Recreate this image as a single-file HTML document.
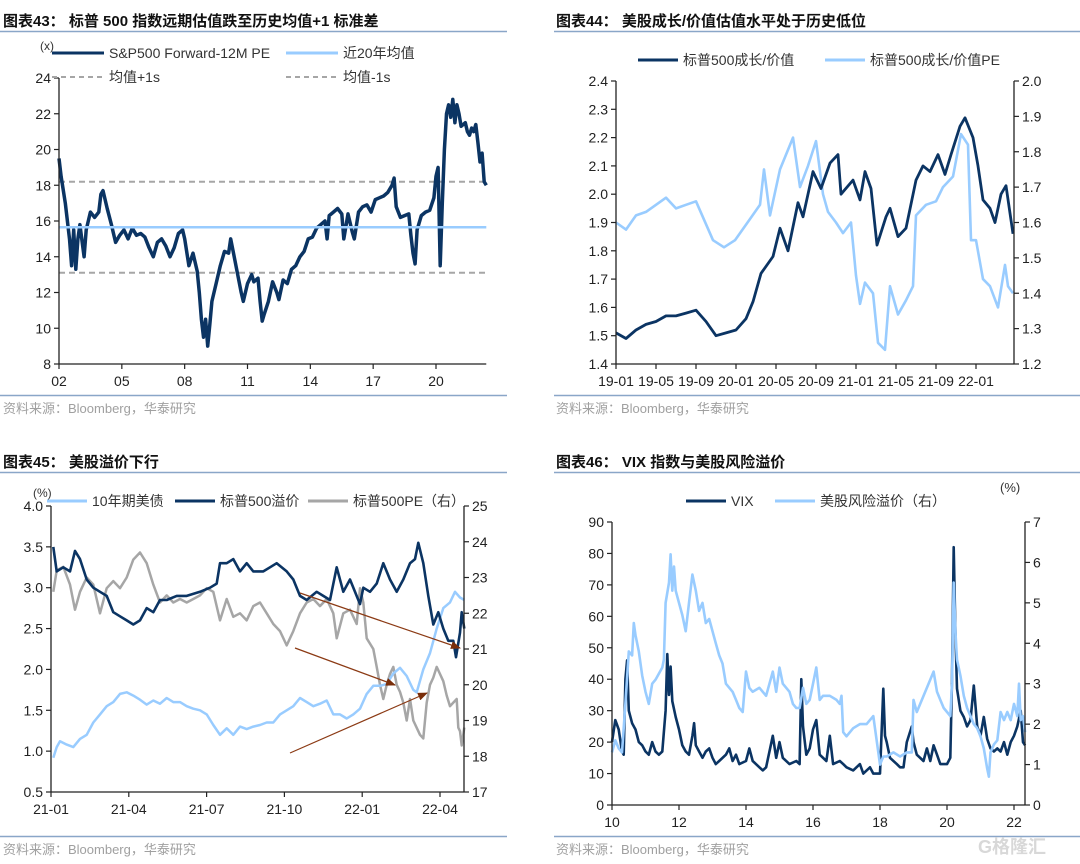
<!DOCTYPE html>
<html><head><meta charset="utf-8">
<style>
html,body{margin:0;padding:0;background:#fff;}
svg{display:block;font-family:"Liberation Sans","Noto Sans CJK SC",sans-serif;}
</style></head>
<body>
<svg id="root" width="1080" height="864" viewBox="0 0 1080 864" xmlns="http://www.w3.org/2000/svg">
<g>
<text x="3" y="26" font-size="15" font-weight="bold" fill="#111">图表43：  标普 500 指数远期估值跌至历史均值+1 标准差</text>
<line x1="0" y1="31.5" x2="507" y2="31.5" stroke="#8aa6c8" stroke-width="1.5"/>
<line x1="0" y1="395.5" x2="507" y2="395.5" stroke="#8aa6c8" stroke-width="1.5"/>
<text x="3" y="413" font-size="13" fill="#a0a0a0">资料来源：Bloomberg，华泰研究</text>
</g>
<g>
<text x="556" y="26" font-size="15" font-weight="bold" fill="#111">图表44：  美股成长/价值估值水平处于历史低位</text>
<line x1="554" y1="31.5" x2="1080" y2="31.5" stroke="#8aa6c8" stroke-width="1.5"/>
<line x1="554" y1="395.5" x2="1080" y2="395.5" stroke="#8aa6c8" stroke-width="1.5"/>
<text x="556" y="413" font-size="13" fill="#a0a0a0">资料来源：Bloomberg，华泰研究</text>
</g>
<g>
<text x="3" y="467" font-size="15" font-weight="bold" fill="#111">图表45：  美股溢价下行</text>
<line x1="0" y1="472.5" x2="507" y2="472.5" stroke="#8aa6c8" stroke-width="1.5"/>
<line x1="0" y1="836.5" x2="507" y2="836.5" stroke="#8aa6c8" stroke-width="1.5"/>
<text x="3" y="854" font-size="13" fill="#a0a0a0">资料来源：Bloomberg，华泰研究</text>
</g>
<g>
<text x="556" y="467" font-size="15" font-weight="bold" fill="#111">图表46：  VIX 指数与美股风险溢价</text>
<line x1="554" y1="472.5" x2="1080" y2="472.5" stroke="#8aa6c8" stroke-width="1.5"/>
<line x1="554" y1="836.5" x2="1080" y2="836.5" stroke="#8aa6c8" stroke-width="1.5"/>
<text x="556" y="854" font-size="13" fill="#a0a0a0">资料来源：Bloomberg，华泰研究</text>
<text x="978" y="853" font-size="18" font-weight="bold" fill="#d8d8d8">G格隆汇</text>
</g>
</svg>
<script>
// ---------- Chart 43 data ----------
const c43Years = [2002.0,2002.1,2002.3,2002.5,2002.6,2002.7,2002.8,2002.9,2003.0,2003.2,2003.3,2003.5,2003.7,2003.9,2004.0,2004.1,2004.3,2004.5,2004.7,2004.9,2005.1,2005.3,2005.5,2005.7,2005.9,2006.1,2006.3,2006.5,2006.7,2006.9,2007.1,2007.3,2007.5,2007.7,2007.9,2008.0,2008.2,2008.4,2008.6,2008.7,2008.8,2008.9,2009.0,2009.1,2009.2,2009.3,2009.5,2009.7,2009.9,2010.1,2010.2,2010.4,2010.5,2010.7,2010.8,2011.0,2011.2,2011.3,2011.5,2011.6,2011.7,2011.8,2012.0,2012.2,2012.4,2012.5,2012.7,2012.9,2013.1,2013.3,2013.5,2013.7,2013.9,2014.1,2014.3,2014.5,2014.7,2014.8,2014.9,2015.1,2015.3,2015.5,2015.6,2015.8,2016.0,2016.1,2016.3,2016.5,2016.7,2016.9,2017.1,2017.3,2017.5,2017.7,2017.9,2018.0,2018.1,2018.3,2018.5,2018.7,2018.8,2018.9,2019.0,2019.1,2019.3,2019.5,2019.7,2019.9,2020.0,2020.1,2020.2,2020.3,2020.4,2020.5,2020.6,2020.7,2020.8,2020.9,2021.0,2021.1,2021.2,2021.4,2021.5,2021.6,2021.7,2021.8,2021.9,2022.0,2022.1,2022.2,2022.3,2022.4];
const c43PE = [19.5,18.5,17,15,13.5,15.5,13.3,15,15.8,14.0,15.5,16.5,16.2,16.5,17.5,17.7,16.7,15.8,14.8,15.2,15.5,15.0,15.6,15.2,15.3,15.1,14.5,14.0,14.8,15.0,14.6,14.0,14.5,15.3,15.5,15.0,13.5,14.2,13.2,12.0,10.5,9.5,10.5,9.0,10.2,11.5,12.5,13.5,14.3,14.2,15.0,13.8,13.2,12.0,11.5,12.5,13.0,12.6,12.8,11.5,10.4,10.8,11.5,12.6,12.0,11.6,12.7,12.5,13.3,13.5,14.0,14.3,15.0,15.1,15.6,15.8,16.0,15.0,16.3,16.5,16.7,16.4,15.0,16.4,15.4,15.0,16.5,16.8,16.9,16.5,17.2,17.3,17.4,17.6,18.0,18.4,16.8,16.2,16.3,16.4,15.2,14.2,13.6,15.5,16.3,16.5,16.6,17.3,18.5,19.0,13.5,17.0,20.0,22.0,22.5,21.8,22.8,21.5,22.5,22.0,21.3,21.5,21.0,20.8,21.2,21.0,21.4,20.4,19.3,19.8,18.2,18.0];
const c43Mean = [15.65];
const c43Plus = [18.2];
const c43Minus = [13.1];
const c43YTicks = [8,10,12,14,16,18,20,22,24];
const c43XTicks = [2002,2005,2008,2011,2014,2017,2020];
const c43XLabels = ["02","05","08","11","14","17","20"];

// ---------- Chart 44 data (months since 2019-01) ----------
const c44GMonths = [0,1,2,3,4,5,6,7,8,9,10,11,12,13,13.7,14.5,15.7,16.4,17.2,18.2,18.7,19.7,20.5,21.4,22.2,22.5,23.7,24.4,24.9,25.5,26.1,27,27.4,28.2,29,30,30.7,31.4,32.2,32.9,33.5,34.4,34.9,35.7,36.2,36.7,37.4,37.9,38.5,39,39.7];
const c44GValues = [1.51,1.49,1.52,1.54,1.55,1.57,1.57,1.58,1.59,1.55,1.50,1.51,1.52,1.56,1.62,1.72,1.78,1.88,1.80,1.97,1.92,2.08,2.02,2.11,2.14,2.00,2.05,1.98,2.08,2.02,1.82,1.92,1.95,1.85,1.88,2.05,2.10,2.08,2.14,2.07,2.14,2.24,2.27,2.20,2.10,1.98,1.95,1.90,2.00,2.03,1.86];
const c44PMonths = [0,1,2,3,4,5,6,7,8,9.7,10.8,11.9,13.4,14.4,14.8,15.4,16.4,17.7,18.4,19.2,20,20.7,21.2,22,22.7,23.5,24,24.4,24.9,25.7,26.2,26.9,27.4,28.2,29,29.7,30,31,32,32.7,33.7,34.5,35.2,35.5,36,36.7,37.4,38.2,38.9,39.2,39.7];
const c44PValues = [1.60,1.58,1.62,1.63,1.65,1.67,1.64,1.65,1.66,1.55,1.53,1.55,1.61,1.65,1.75,1.62,1.75,1.84,1.70,1.76,1.83,1.68,1.63,1.60,1.57,1.60,1.45,1.37,1.43,1.40,1.26,1.24,1.42,1.34,1.38,1.42,1.62,1.65,1.66,1.70,1.73,1.85,1.82,1.55,1.55,1.44,1.42,1.36,1.48,1.42,1.40];
const c44LTicks = [1.4,1.5,1.6,1.7,1.8,1.9,2.0,2.1,2.2,2.3,2.4];
const c44RTicks = [1.2,1.3,1.4,1.5,1.6,1.7,1.8,1.9,2.0];
const c44XTicks = [0,4,8,12,16,20,24,28,32,36];
const c44XLabels = ["19-01","19-05","19-09","20-01","20-05","20-09","21-01","21-05","21-09","22-01"];

// ---------- Chart 45 data (months since 2021-01) ----------
const c45ZoomX = [160,170,190,210,225,240,260,280,300,320,340,360,380,400,420,440,460,480,500,530,560,600,630,650,660,680,700,720,740,760,790,810,830,860,880,900,920,950,970,990,1010,1030,1050,1080,1090,1110,1130,1150,1170,1190,1210,1230,1245,1255,1270,1285,1300,1315,1330,1345,1360,1368,1380,1385,1393];
const c45Months = c45ZoomX.map(v => (v - 153) / 77.8);
const c45Premium = [3.5,3.2,3.25,3.2,3.45,3.35,3.1,3.0,2.95,2.9,2.7,2.65,2.6,2.55,2.6,2.75,2.7,2.85,2.85,2.9,2.9,2.95,3.0,3.05,3.3,3.3,3.35,3.2,3.3,3.2,3.2,3.25,3.3,3.2,3.1,2.9,2.85,2.95,2.9,2.85,3.25,2.95,3.1,2.8,3.0,2.95,3.05,3.3,3.1,2.95,3.1,3.3,3.35,3.55,3.3,2.9,2.55,2.7,2.5,2.35,2.35,2.15,2.45,2.7,2.5];
const c45BondX = [160,170,180,200,220,240,260,280,300,320,340,360,380,400,420,440,460,480,500,520,540,560,580,600,620,640,660,680,700,720,740,760,780,800,820,840,860,880,900,920,940,960,980,1000,1020,1040,1060,1080,1100,1120,1140,1160,1180,1200,1220,1240,1250,1270,1290,1310,1330,1350,1365,1380,1393];
const c45BondMonths = c45BondX.map(v => (v - 153) / 77.8);
const c45Bond = [0.92,1.05,1.12,1.08,1.05,1.15,1.2,1.35,1.45,1.55,1.6,1.7,1.72,1.68,1.63,1.57,1.62,1.58,1.65,1.6,1.6,1.55,1.52,1.5,1.45,1.32,1.2,1.28,1.2,1.3,1.27,1.3,1.32,1.35,1.35,1.45,1.5,1.55,1.65,1.6,1.55,1.58,1.62,1.45,1.45,1.4,1.45,1.52,1.7,1.8,1.8,1.82,1.95,2.02,1.92,1.75,1.72,2.0,2.2,2.5,2.75,2.82,2.95,2.88,2.85];
const c45PEX = [160,170,190,210,225,240,260,280,300,320,340,360,380,400,420,440,460,480,500,520,540,560,580,600,620,640,660,680,700,720,740,760,780,800,820,840,860,880,900,920,940,960,980,1000,1010,1030,1050,1070,1080,1090,1100,1120,1130,1140,1150,1160,1170,1180,1190,1200,1210,1220,1230,1240,1260,1270,1280,1290,1300,1310,1320,1330,1340,1350,1360,1370,1375,1380,1385,1393];
const c45PEMonths = c45PEX.map(v => (v - 153) / 77.8);
const c45PE = [22.6,23.2,23.3,22.8,22.1,22.6,23.0,22.8,22.0,22.7,22.9,22.7,23.0,23.5,23.7,23.4,22.8,22.3,22.5,22.3,22.4,22.3,22.4,22.5,22.7,22.6,21.8,22.4,21.9,22.0,21.8,22.2,22.3,22.0,21.7,21.5,21.1,21.5,22.0,22.3,22.4,22.2,22.4,22.0,21.3,22.0,22.1,21.7,22.7,22.3,21.3,21.0,20.5,20.0,19.6,20.0,20.3,20.5,20.0,19.8,19.5,19.0,19.6,19.0,18.6,18.5,19.5,20.0,20.2,20.5,20.3,20.1,19.7,19.4,19.5,19.6,18.8,18.7,18.3,18.8];
const c45LTicks = [0.5,1.0,1.5,2.0,2.5,3.0,3.5,4.0];
const c45RTicks = [17,18,19,20,21,22,23,24,25];
const c45XTicks = [0,3,6,9,12,15];
const c45XLabels = ["21-01","21-04","21-07","21-10","22-01","22-04"];

// ---------- Chart 46 data ----------
const c46VixYears = [2010.0,2010.1,2010.2,2010.3,2010.35,2010.4,2010.45,2010.5,2010.6,2010.7,2010.8,2010.9,2011.0,2011.1,2011.2,2011.3,2011.4,2011.5,2011.6,2011.65,2011.7,2011.75,2011.8,2011.9,2012.0,2012.1,2012.2,2012.3,2012.4,2012.45,2012.5,2012.6,2012.7,2012.8,2012.9,2013.0,2013.1,2013.2,2013.4,2013.5,2013.6,2013.7,2013.8,2014.0,2014.1,2014.2,2014.4,2014.5,2014.6,2014.8,2014.9,2015.0,2015.1,2015.3,2015.5,2015.6,2015.65,2015.7,2015.8,2015.9,2016.0,2016.1,2016.2,2016.4,2016.5,2016.6,2016.8,2016.9,2017.0,2017.2,2017.4,2017.5,2017.7,2017.8,2017.9,2018.0,2018.1,2018.15,2018.2,2018.3,2018.5,2018.6,2018.7,2018.8,2018.95,2019.0,2019.1,2019.3,2019.4,2019.5,2019.6,2019.7,2019.8,2019.9,2020.0,2020.1,2020.15,2020.2,2020.25,2020.3,2020.4,2020.5,2020.6,2020.7,2020.8,2020.9,2021.0,2021.1,2021.2,2021.3,2021.4,2021.5,2021.6,2021.7,2021.8,2021.9,2022.0,2022.1,2022.2,2022.27,2022.33];
const c46Vix = [20,27,24,17,16,40,46,30,26,24,20,19,17,16,20,17,16,17,30,48,35,44,33,28,24,19,17,16,22,26,19,17,15,17,18,15,13,14,16,18,14,16,13,14,18,14,12,11,12,22,15,20,15,13,14,13,40,25,16,18,24,27,16,14,22,13,14,13,12,11,13,10,12,10,10,10,37,22,20,15,13,12,12,20,25,20,16,14,18,14,19,16,13,13,13,15,40,82,55,37,30,28,25,27,38,25,22,28,21,18,17,18,17,20,16,20,22,25,30,20,19];
const c46ErpYears = [2010.0,2010.1,2010.2,2010.3,2010.4,2010.5,2010.6,2010.65,2010.7,2010.8,2010.9,2011.0,2011.1,2011.2,2011.3,2011.5,2011.55,2011.6,2011.7,2011.75,2011.8,2011.85,2011.9,2012.0,2012.1,2012.2,2012.3,2012.4,2012.5,2012.6,2012.7,2012.8,2012.9,2013.0,2013.1,2013.2,2013.3,2013.4,2013.5,2013.6,2013.7,2013.8,2013.9,2014.0,2014.1,2014.2,2014.4,2014.6,2014.8,2014.9,2015.0,2015.1,2015.3,2015.4,2015.5,2015.6,2015.7,2015.8,2015.9,2016.0,2016.1,2016.2,2016.3,2016.5,2016.7,2016.8,2016.85,2016.9,2017.0,2017.2,2017.4,2017.6,2017.8,2018.0,2018.1,2018.2,2018.4,2018.6,2018.8,2018.95,2019.0,2019.1,2019.2,2019.4,2019.6,2019.7,2019.8,2019.9,2020.0,2020.1,2020.15,2020.2,2020.25,2020.3,2020.4,2020.5,2020.6,2020.7,2020.8,2020.9,2021.0,2021.1,2021.2,2021.25,2021.3,2021.4,2021.5,2021.6,2021.7,2021.8,2021.9,2022.0,2022.1,2022.15,2022.2,2022.27,2022.33];
const c46Erp = [1.3,1.6,1.4,1.3,2.5,3.8,3.7,4.5,4.2,3.8,3.2,2.8,2.5,3.0,3.1,3.4,3.6,5.0,5.5,6.2,5.3,5.9,5.3,5.0,4.7,4.3,5.0,5.7,5.3,4.8,5.0,4.5,4.6,4.3,4.0,3.7,3.5,3.0,2.9,2.8,2.6,2.4,2.3,3.3,2.9,2.8,2.9,2.7,3.3,2.8,3.4,3.0,2.8,2.5,2.4,2.4,2.9,2.5,2.6,3.0,3.4,2.6,2.7,2.7,2.6,2.5,2.7,1.8,1.7,1.9,2.0,2.0,2.2,1.0,1.2,1.2,1.3,1.2,1.3,1.3,2.6,2.3,2.5,2.9,3.3,2.8,2.6,2.4,2.3,2.2,3.0,5.5,4.3,3.6,3.2,2.7,2.4,2.2,2.0,1.9,1.7,1.4,0.9,0.7,1.3,1.5,1.6,2.3,2.1,2.3,2.1,2.5,2.2,3.0,2.1,2.2,1.8];
const c46LTicks = [0,10,20,30,40,50,60,70,80,90];
const c46RTicks = [0,1,2,3,4,5,6,7];
const c46XTicks = [2010,2012,2014,2016,2018,2020,2022];
const c46XLabels = ["10","12","14","16","18","20","22"];

const NS = "http://www.w3.org/2000/svg";
const root = document.getElementById('root');
function mk(tag, attrs, parent) {
  const e = document.createElementNS(NS, tag);
  for (const k in attrs) e.setAttribute(k, attrs[k]);
  (parent || root).appendChild(e);
  return e;
}
function lin(d0, d1, r0, r1) { return v => r0 + (v - d0) / (d1 - d0) * (r1 - r0); }
function pathD(xs, ys, sx, sy) {
  return xs.map((x, i) => (i ? 'L' : 'M') + sx(x).toFixed(1) + ',' + sy(ys[i]).toFixed(1)).join('');
}
function txt(x, y, s, size, anchor, parent, fill) {
  const t = mk('text', {x: x, y: y, 'font-size': size, 'text-anchor': anchor || 'start', fill: fill || '#222'}, parent);
  t.textContent = s;
  return t;
}
function yAxis(g, x, ticks, sy, side, fmt) {
  const ax = mk('line', {x1: x, y1: sy(ticks[0]), x2: x, y2: sy(ticks[ticks.length-1]), stroke: '#222', 'stroke-width': 1.3}, g);
  
  
  ticks.forEach(t => {
    const dx = side === 'left' ? -5 : 5;
    mk('line', {x1: x, y1: sy(t), x2: x + dx, y2: sy(t), stroke: '#222', 'stroke-width': 1.2}, g);
    const lb = txt(side === 'left' ? x - 8 : x + 8, sy(t) + 5, fmt(t), 14, side === 'left' ? 'end' : 'start', g);
    
    
  });
}
function xAxis(g, y, x0, x1, ticks, labels, sx) {
  const ax = mk('line', {x1: x0, y1: y, x2: x1, y2: y, stroke: '#222', 'stroke-width': 1.3}, g);
  
  
  ticks.forEach((t, i) => {
    mk('line', {x1: sx(t), y1: y, x2: sx(t), y2: y + 5, stroke: '#222', 'stroke-width': 1.2}, g);
    const lb = txt(sx(t), y + 22, labels[i], 14, 'middle', g);
    
    
  });
}
function series(g, xs, ys, sx, sy, color, w, name, dash) {
  const p = mk('path', {d: pathD(xs, ys, sx, sy), fill: 'none', stroke: color, 'stroke-width': w, 'stroke-linejoin': 'round'}, g);
  if (dash) p.setAttribute('stroke-dasharray', dash);
  
  
  return p;
}
function legend(g, x, y, color, label, name, dash, w, len) {
  const L = len || 52;
  const lg = mk('g', {}, g);
  
  
  const l = mk('line', {x1: x, y1: y, x2: x + L, y2: y, stroke: color, 'stroke-width': w || 3}, lg);
  if (dash) l.setAttribute('stroke-dasharray', dash);
  txt(x + L + 5, y + 5, label, 14, 'start', lg, '#333');
}
const DARK = '#0b3463', LIGHT = '#99ccff', GRAY = '#a6a6a6';

// ---- Chart 43 ----
(function(){
  const g = mk('g', {});
  
  
  const sx = lin(2002, 2020, 59, 436), sy = lin(8, 24, 364, 78);
  const x1 = sx(2022.4);
  txt(40, 50, '(x)', 12, 'start', g, '#333');
  [[c43Plus, 'plus-1s-line'], [c43Minus, 'minus-1s-line']].forEach(([v, n]) => {
    series(g, [2002, 2022.4], [v[0], v[0]], sx, sy, GRAY, 2, n, '6,4');
  });
  series(g, c43Years, c43PE, sx, sy, DARK, 3.5, 'sp500-forward-pe-line');
  series(g, [2002, 2022.4], [c43Mean[0], c43Mean[0]], sx, sy, LIGHT, 2.5, 'mean-20y-line');
  yAxis(g, 59, c43YTicks, sy, 'left', t => String(t));
  xAxis(g, 364, 59, x1, c43XTicks, c43XLabels, sx);
  legend(g, 52, 53, DARK, 'S&P500 Forward-12M PE', 'legend-sp500-pe');
  legend(g, 286, 53, LIGHT, '近20年均值', 'legend-mean');
  legend(g, 52, 77, GRAY, '均值+1s', 'legend-plus-1s', '5,4', 2);
  legend(g, 286, 77, GRAY, '均值-1s', 'legend-minus-1s', '5,4', 2);
})();

// ---- Chart 44 ----
(function(){
  const g = mk('g', {});
  
  
  const sx = lin(0, 36, 616, 976), syL = lin(1.4, 2.4, 364, 81), syR = lin(1.2, 2.0, 364, 81);
  series(g, c44PMonths, c44PValues, sx, syR, LIGHT, 2.6, 'growth-value-pe-line');
  series(g, c44GMonths, c44GValues, sx, syL, DARK, 2.8, 'growth-value-ratio-line');
  yAxis(g, 616, c44LTicks, syL, 'left', t => t.toFixed(1));
  yAxis(g, 1014, c44RTicks, syR, 'right', t => t.toFixed(1));
  xAxis(g, 364, 616, 1014, c44XTicks, c44XLabels, sx);
  legend(g, 638, 60, DARK, '标普500成长/价值', 'legend-growth-value', null, 3, 40);
  legend(g, 825, 60, LIGHT, '标普500成长/价值PE', 'legend-growth-value-pe', null, 3, 40);
})();

// ---- Chart 45 ----
(function(){
  const g = mk('g', {});
  
  
  const sx = lin(0, 15, 51, 440), syL = lin(0.5, 4.0, 792, 506), syR = lin(17, 25, 792, 506);
  series(g, c45PEMonths, c45PE, sx, syR, GRAY, 2.5, 'sp500-pe-line');
  series(g, c45BondMonths, c45Bond, sx, syL, LIGHT, 2.5, 'us10y-yield-line');
  series(g, c45Months, c45Premium, sx, syL, DARK, 2.6, 'sp500-premium-line');
  yAxis(g, 51, c45LTicks, syL, 'left', t => t.toFixed(1));
  yAxis(g, 464, c45RTicks, syR, 'right', t => String(t));
  xAxis(g, 792, 51, 464, c45XTicks, c45XLabels, sx);
  txt(33, 497, '(%)', 12, 'start', g, '#333');
  legend(g, 47, 501, LIGHT, '10年期美债', 'legend-us10y', null, 3, 40);
  legend(g, 175, 501, DARK, '标普500溢价', 'legend-premium', null, 3, 40);
  legend(g, 308, 501, GRAY, '标普500PE（右）', 'legend-pe', null, 3, 40);
  const defs = mk('defs', {}, g);
  const m = mk('marker', {id: 'arr', markerWidth: 10, markerHeight: 8, refX: 9, refY: 4, orient: 'auto', markerUnits: 'userSpaceOnUse'}, defs);
  mk('path', {d: 'M0,0 L10,4 L0,8 Z', fill: '#7a2e0a'}, m);
  [[300,593,460,648],[295,648,395,685],[290,753,427,693]].forEach((a, i) => {
    const l = mk('line', {x1: a[0], y1: a[1], x2: a[2], y2: a[3], stroke: '#8b3a14', 'stroke-width': 1.2, 'marker-end': 'url(#arr)'}, g);
    
    
  });
})();

// ---- Chart 46 ----
(function(){
  const g = mk('g', {});
  
  
  const sx = lin(2010, 2022, 612, 1014), syL = lin(0, 90, 805, 522), syR = lin(0, 7, 805, 522);
  series(g, c46VixYears, c46Vix, sx, syL, DARK, 2.6, 'vix-line');
  series(g, c46ErpYears, c46Erp, sx, syR, LIGHT, 2.6, 'equity-risk-premium-line');
  yAxis(g, 612, c46LTicks, syL, 'left', t => String(t));
  yAxis(g, 1025, c46RTicks, syR, 'right', t => String(t));
  xAxis(g, 805, 612, 1025, c46XTicks, c46XLabels, sx);
  txt(1000, 492, '(%)', 13, 'start', g, '#333');
  legend(g, 686, 501, DARK, 'VIX', 'legend-vix', null, 3, 40);
  legend(g, 775, 501, LIGHT, '美股风险溢价（右）', 'legend-erp', null, 3, 40);
})();
</script>
</body></html>
